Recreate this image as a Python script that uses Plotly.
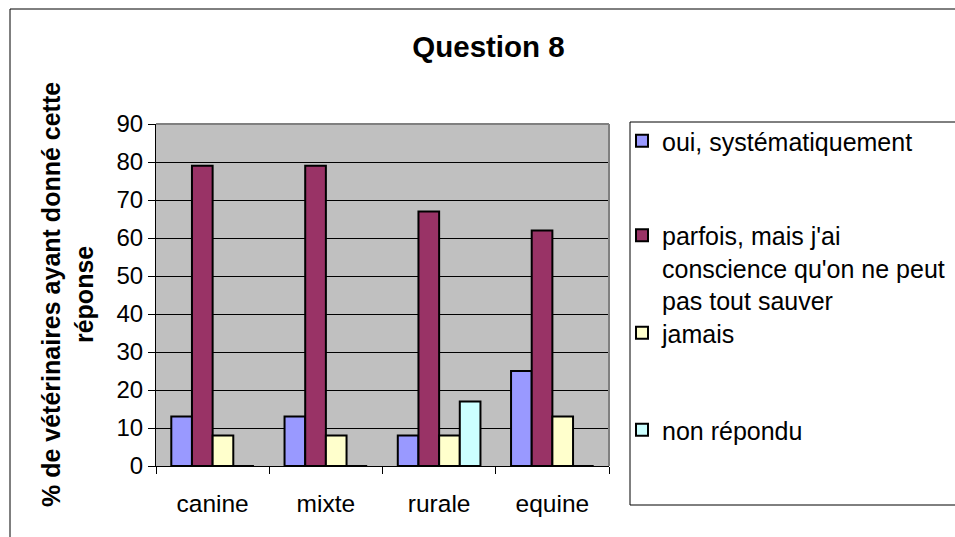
import plotly.graph_objects as go

# Survey results: share of veterinarians giving each answer, by practice type
categories = ["canine", "mixte", "rurale", "equine"]
series_names = [
    "oui, systématiquement",
    "parfois, mais j'ai<br>conscience qu'on ne peut<br>pas tout sauver",
    "jamais",
    "non répondu",
]
oui_values = [13, 13, 8, 25]
parfois_values = [79, 79, 67, 62]
jamais_values = [8, 8, 8, 13]
non_repondu_values = [0, 0, 17, 0]
y_ticks = list(range(0, 100, 10))

series_values = [oui_values, parfois_values, jamais_values, non_repondu_values]
series_colors = ["#9999FF", "#993366", "#FFFFCC", "#CCFFFF"]
legend_ids = ["legend", "legend2", "legend3", "legend4"]

FONT = "Liberation Sans, Arial, sans-serif"
W, H = 955, 537
# plot area in pixels
L, R, T, B = 156, 609, 124, 466
PW, PH = R - L, B - T


def px_x(p):
    return (p - L) / PW


def px_y(p):
    return (B - p) / PH


fig = go.Figure()
for name, vals, color, lg in zip(series_names, series_values, series_colors, legend_ids):
    fig.add_trace(go.Bar(
        x=categories, y=vals, name=name,
        marker=dict(color=color, line=dict(color="black", width=2)),
        legend=lg,
    ))

# legends are placed in container coordinates so they never push the margins
legend_common = dict(
    bgcolor="rgba(0,0,0,0)", borderwidth=0,
    font=dict(family=FONT, size=25, color="black"),
    xref="container", yref="container",
    xanchor="left", yanchor="middle", valign="top",
    x=622 / W, itemwidth=30,
)

fig.update_layout(
    width=W, height=H,
    margin=dict(l=L, r=W - R, t=T, b=H - B, pad=0),
    paper_bgcolor="white",
    plot_bgcolor="#C0C0C0",
    barmode="group", bargap=0.27, bargroupgap=0,
    font=dict(family=FONT, color="black"),
    title=dict(
        text="<b>Question 8</b>",
        font=dict(family=FONT, size=29.5, color="black"),
        x=488.5 / W, xanchor="center", xref="container",
        y=1 - 47 / H, yanchor="middle", yref="container",
    ),
    legend=dict(legend_common, y=1 - 141 / H),
    legend2=dict(legend_common, y=1 - 268 / H),
    legend3=dict(legend_common, y=1 - 333 / H),
    legend4=dict(legend_common, y=1 - 430 / H),
    xaxis=dict(
        showgrid=False, showline=True, linecolor="black", linewidth=1,
        ticks="outside", ticklen=7, tickcolor="black", tickson="boundaries",
        tickfont=dict(family=FONT, size=24.5, color="black"),
        ticklabelstandoff=16,
    ),
    yaxis=dict(
        range=[0, 90], tickvals=y_ticks,
        showgrid=True, gridcolor="black", gridwidth=1,
        showline=True, linecolor="black", linewidth=1,
        ticks="outside", ticklen=7, tickcolor="black",
        tickfont=dict(family=FONT, size=24, color="black"),
        zeroline=False,
    ),
    showlegend=True,
)

# y-axis title
fig.add_annotation(
    text="<b>% de vétérinaires ayant donné cette<br>réponse</b>",
    textangle=-90, xref="paper", yref="paper",
    x=px_x(67), y=0.5, xanchor="center", yanchor="middle",
    showarrow=False, font=dict(family=FONT, size=25, color="black"),
)

# plot-area frame (top and right edges)
fig.add_shape(type="line", xref="paper", yref="paper", x0=0, x1=1, y0=1, y1=1,
              line=dict(color="#808080", width=2))
fig.add_shape(type="line", xref="paper", yref="paper", x0=1, x1=1, y0=0, y1=1,
              line=dict(color="#808080", width=2))
# legend frame
fig.add_shape(type="rect", xref="paper", yref="paper",
              x0=px_x(630), x1=px_x(965), y0=px_y(505), y1=px_y(122),
              line=dict(color="black", width=1))
# chart frame
fig.add_shape(type="rect", xref="paper", yref="paper",
              x0=px_x(10), x1=px_x(970), y0=px_y(550), y1=px_y(9),
              line=dict(color="black", width=1))

fig.write_html("out.html")
